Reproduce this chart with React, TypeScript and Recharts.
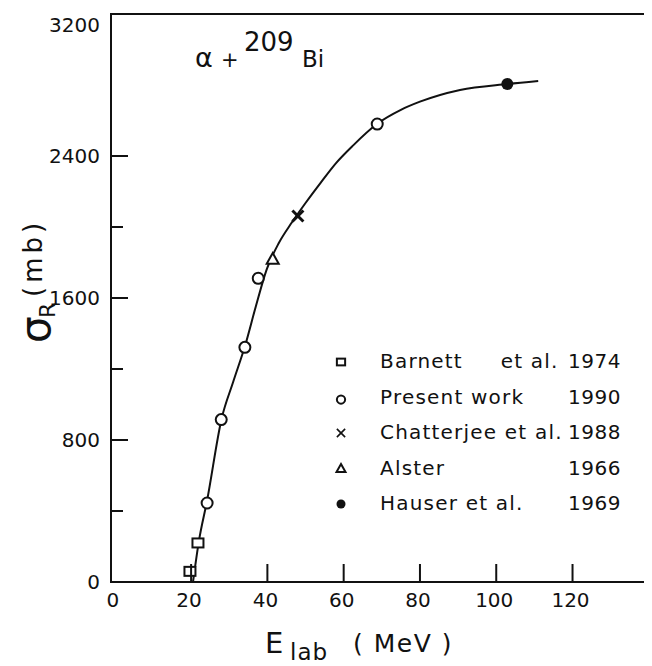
import { ComposedChart, Line, Scatter, XAxis, YAxis, ReferenceArea, Legend, Customized } from 'recharts';

// Fitted curve through the reaction cross-section data
const curveEnergy = [20.5, 22, 24.2, 28, 31, 34.2, 37, 39.8, 43, 46.4, 50, 54, 58, 62.5, 68.7, 75, 80, 90.5, 103, 111];
const curveSigma = [0, 225, 460, 920, 1125, 1335, 1555, 1760, 1910, 2025, 2135, 2250, 2360, 2460, 2580, 2660, 2706, 2772, 2806, 2823];

// Measured points, one pair of arrays per data set
const barnettEnergy = [19.7, 21.8];
const barnettSigma = [60, 220];
const presentEnergy = [24.2, 27.9, 34.1, 37.6, 68.8];
const presentSigma = [445, 915, 1322, 1711, 2580];
const chatterjeeEnergy = [48];
const chatterjeeSigma = [2062];
const alsterEnergy = [41.4];
const alsterSigma = [1820];
const hauserEnergy = [102.9];
const hauserSigma = [2806];

const xTicks = [0, 20, 40, 60, 80, 100, 120];
const yTicks = [0, 400, 800, 1200, 1600, 2000, 2400, 3200];

const legendNames = ['Barnett     et al.', 'Present work', 'Chatterjee et al.', 'Alster', 'Hauser et al.'];
const legendYears = ['1974', '1990', '1988', '1966', '1969'];
const legendSymbols = ['square', 'circle', 'cross', 'triangle', 'dot'];

const toPoints = (xs: number[], ys: number[]) => xs.map((x, i) => ({ x, y: ys[i] }));

const FONT = '"DejaVu Sans", sans-serif';
const INK = '#111';

const Marker = ({ kind, cx, cy, s = 1 }: { kind: string; cx: number; cy: number; s?: number }) => {
  const sw = 2;
  if (kind === 'square') {
    return <rect x={cx - 5.5 * s} y={cy - 4.5 * s} width={11 * s} height={9 * s} fill="#fff" stroke={INK} strokeWidth={sw} />;
  }
  if (kind === 'circle') {
    return <circle cx={cx} cy={cy} r={5.5 * s} fill="#fff" stroke={INK} strokeWidth={sw} />;
  }
  if (kind === 'triangle') {
    const h = 6 * s;
    return (
      <polygon
        points={`${cx},${cy - h} ${cx + h},${cy + h * 0.8} ${cx - h},${cy + h * 0.8}`}
        fill="#fff"
        stroke={INK}
        strokeWidth={sw}
      />
    );
  }
  if (kind === 'cross') {
    const d = 5.5 * s;
    return (
      <g stroke={INK} strokeWidth={s < 1 ? 1.6 : 3}>
        <line x1={cx - d} y1={cy - d} x2={cx + d} y2={cy + d} />
        <line x1={cx - d} y1={cy + d} x2={cx + d} y2={cy - d} />
      </g>
    );
  }
  return <circle cx={cx} cy={cy} r={6 * s} fill={INK} />;
};

const shapeOf = (kind: string) => (props: any) => <Marker kind={kind} cx={props.cx} cy={props.cy} />;

const XTick = (props: any) => {
  const { x, y, payload } = props;
  const v = payload.value;
  return (
    <g>
      {v > 0 && <line x1={x} y1={y} x2={x} y2={y - 18} stroke={INK} strokeWidth={2} />}
      <text x={x - 2} y={y + 25} textAnchor="middle" fontSize={20} fontFamily={FONT} fill={INK}>
        {v}
      </text>
    </g>
  );
};

const YTick = (props: any) => {
  const { x, y, payload } = props;
  const v = payload.value;
  const major = v % 800 === 0;
  // the top label sits just under the frame instead of centred on it
  const dy = v === 3200 ? 15 : 7;
  return (
    <g>
      {v > 0 && v < 3200 && (
        <line x1={x} y1={y} x2={x + (major ? 17 : 12)} y2={y} stroke={INK} strokeWidth={2} />
      )}
      {major && (
        <text x={x - 11} y={y + dy} textAnchor="end" fontSize={20} fontFamily={FONT} fill={INK}>
          {v}
        </text>
      )}
    </g>
  );
};

const Titles = () => (
  <g fontFamily={FONT} fill={INK}>
    {/* reaction label */}
    <text x={187} y={59} fontSize={27}>α</text>
    <text x={213} y={59} fontSize={21}>+</text>
    <text x={236} y={43} fontSize={26}>209</text>
    <text x={294} y={59} fontSize={23}>Bi</text>

    {/* x axis title */}
    <text x={257} y={645} fontSize={29}>E</text>
    <text x={282} y={652} fontSize={23} letterSpacing={1}>lab</text>
    <text x={345} y={644} fontSize={25} letterSpacing={1.5} style={{ whiteSpace: 'pre' }}>( MeV )</text>

    {/* y axis title */}
    <text transform="translate(42,335) rotate(-90)" fontSize={42}>σ</text>
    <text transform="translate(47,310) rotate(-90)" fontSize={22}>R</text>
    <text transform="translate(34,289) rotate(-90)" fontSize={26} letterSpacing={4}>(mb)</text>
  </g>
);

const LegendBox = () => (
  <svg width={300} height={180} style={{ display: 'block', overflow: 'visible' }}>
    {legendNames.map((name, i) => {
      const base = 23 + i * 35.5;
      return (
        <g key={name}>
          <Marker kind={legendSymbols[i]} cx={11} cy={base - (legendSymbols[i] === 'circle' ? 4 : 6)} s={0.75} />
          <text x={50} y={base} fontSize={20} fontFamily={FONT} fill={INK} letterSpacing={1.2} style={{ whiteSpace: 'pre' }}>
            {name}
          </text>
          <text x={291} y={base} fontSize={20} fontFamily={FONT} fill={INK} textAnchor="end" letterSpacing={0.5}>
            {legendYears[i]}
          </text>
        </g>
      );
    })}
  </svg>
);

export default function App() {
  return (
    <div style={{ width: 644, height: 658, background: '#fff' }}>
      <ComposedChart width={644} height={658} margin={{ top: 6, right: 7, left: 0, bottom: 0 }}>
        <XAxis
          type="number"
          dataKey="x"
          domain={[-1, 139]}
          allowDataOverflow
          ticks={xTicks}
          height={84}
          tickSize={0}
          tickMargin={0}
          tickLine={false}
          tick={<XTick />}
          axisLine={{ stroke: INK, strokeWidth: 2 }}
        />
        <YAxis
          type="number"
          dataKey="y"
          domain={[0, 3200]}
          allowDataOverflow
          ticks={yTicks}
          width={103}
          tickSize={0}
          tickMargin={0}
          tickLine={false}
          tick={<YTick />}
          axisLine={{ stroke: INK, strokeWidth: 2 }}
        />
        <ReferenceArea x1={-1} x2={139} y1={0} y2={3200} fill="none" stroke={INK} strokeWidth={2} />
        <Line
          data={toPoints(curveEnergy, curveSigma)}
          dataKey="y"
          type="monotone"
          stroke={INK}
          strokeWidth={2}
          dot={false}
          legendType="none"
          isAnimationActive={false}
        />
        <Scatter name="Barnett et al." data={toPoints(barnettEnergy, barnettSigma)} shape={shapeOf('square')} isAnimationActive={false} />
        <Scatter name="Present work" data={toPoints(presentEnergy, presentSigma)} shape={shapeOf('circle')} isAnimationActive={false} />
        <Scatter name="Chatterjee et al." data={toPoints(chatterjeeEnergy, chatterjeeSigma)} shape={shapeOf('cross')} isAnimationActive={false} />
        <Scatter name="Alster" data={toPoints(alsterEnergy, alsterSigma)} shape={shapeOf('triangle')} isAnimationActive={false} />
        <Scatter name="Hauser et al." data={toPoints(hauserEnergy, hauserSigma)} shape={shapeOf('dot')} isAnimationActive={false} />
        <Legend
          layout="horizontal"
          verticalAlign="middle"
          align="center"
          content={() => <LegendBox />}
          wrapperStyle={{ position: 'absolute', left: 322, top: 337, width: 300, height: 180 }}
        />
        <Customized component={Titles} />
      </ComposedChart>
    </div>
  );
}
